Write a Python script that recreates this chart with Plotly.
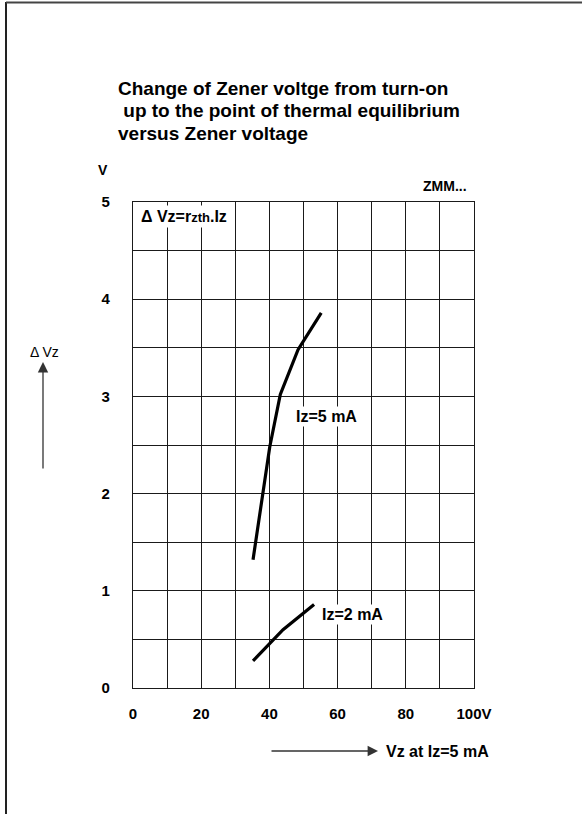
import plotly.graph_objects as go

# Zener voltage (V) vs change of Zener voltage (V)
vz_5ma = [35.2, 40.1, 43.2, 48.4, 55.2]
dvz_5ma = [1.32, 2.48, 3.02, 3.48, 3.86]

vz_2ma = [35.2, 44.0, 53.1]
dvz_2ma = [0.28, 0.60, 0.86]

x_tickvals = [0, 20, 40, 60, 80, 100]
x_ticktext = ["0", "20", "40", "60", "80", "100V"]
y_tickvals = [0, 1, 2, 3, 4, 5]

W, H = 582, 814
L, R, T, B = 133, 474, 202, 688  # plot area in pixels


def px(x):
    return (x - L) / (R - L)


def py(y):
    return (B - y) / (B - T)


FONT = "Liberation Sans"
fig = go.Figure()

for xs, ys in [(vz_5ma, dvz_5ma), (vz_2ma, dvz_2ma)]:
    fig.add_trace(go.Scatter(x=xs, y=ys, mode="lines",
                             line=dict(color="black", width=3.2),
                             showlegend=False, hoverinfo="skip"))

axis_common = dict(
    showline=True, linecolor="#1a1a1a", linewidth=1.4, mirror=True,
    showgrid=True, gridcolor="#1a1a1a", gridwidth=1.3,
    zeroline=False, ticks="", fixedrange=True,
    tickfont=dict(family=FONT, size=15, color="black", weight="bold"),
)

fig.update_xaxes(range=[0, 100], tickvals=x_tickvals, ticktext=x_ticktext,
                 minor=dict(dtick=10, showgrid=True, gridcolor="#1a1a1a", gridwidth=1.3),
                 ticklabelstandoff=12, **axis_common)
fig.update_yaxes(range=[0, 5], tickvals=y_tickvals,
                 minor=dict(dtick=0.5, showgrid=True, gridcolor="#1a1a1a", gridwidth=1.3),
                 ticklabelstandoff=19, **axis_common)

bold = dict(family=FONT, size=16, color="black", weight="bold")
small_bold = dict(family=FONT, size=14, color="black", weight="bold")
title_font = dict(family=FONT, size=19, color="black", weight="bold")

annotations = [
    dict(x=px(116), y=py(88), text="Change of Zener voltge from turn-on", font=title_font),
    dict(x=px(116), y=py(111), text=" up to the point of thermal equilibrium", font=title_font),
    dict(x=px(116), y=py(133), text="versus Zener voltage", font=title_font),
    dict(x=px(96), y=py(170), text="V", font=small_bold),
    dict(x=px(421), y=py(186), text="ZMM...", font=small_bold),
    dict(x=px(138), y=py(216),
         text="Δ Vz=r<span style='font-size:13px'>zth</span>.Iz",
         font=bold, bgcolor="white", borderpad=2),
    dict(x=px(28), y=py(352), text="Δ Vz",
         font=dict(family=FONT, size=14, color="black")),
    dict(x=px(384), y=py(751), text="Vz at Iz=5 mA", font=bold),
]
for a in annotations:
    fig.add_annotation(xref="paper", yref="paper", xanchor="left", yanchor="middle",
                       showarrow=False, **a)

fig.add_annotation(x=56.7, y=2.79, xref="x", yref="y", text="Iz=5 mA", font=bold,
                   showarrow=False, bgcolor="white", borderpad=1)
fig.add_annotation(x=64.4, y=0.76, xref="x", yref="y", text="Iz=2 mA", font=bold,
                   showarrow=False, bgcolor="white", borderpad=1)

# arrows next to the axis labels
fig.add_annotation(xref="paper", yref="paper", x=px(43), y=py(362), ax=0, ay=108,
                   text="", showarrow=True, arrowhead=2, arrowsize=1.6, arrowwidth=1.3,
                   arrowcolor="#333")
fig.add_annotation(xref="paper", yref="paper", x=px(378), y=py(751), ax=-108, ay=0,
                   text="", showarrow=True, arrowhead=2, arrowsize=1.6, arrowwidth=1.3,
                   arrowcolor="#333")

# page frame
fig.add_shape(type="line", xref="paper", yref="paper", x0=px(6), x1=px(6), y0=py(2), y1=py(814),
              line=dict(color="#222", width=2))
fig.add_shape(type="line", xref="paper", yref="paper", x0=px(6), x1=px(582), y0=py(2.5), y1=py(2.5),
              line=dict(color="#444", width=2))

fig.update_layout(
    width=W, height=H,
    margin=dict(l=L, r=W - R, t=T, b=H - B),
    paper_bgcolor="white", plot_bgcolor="white",
    showlegend=False,
)

fig.write_html("out.html", config={"displayModeBar": False},
               post_script="document.body.style.margin='0';")
